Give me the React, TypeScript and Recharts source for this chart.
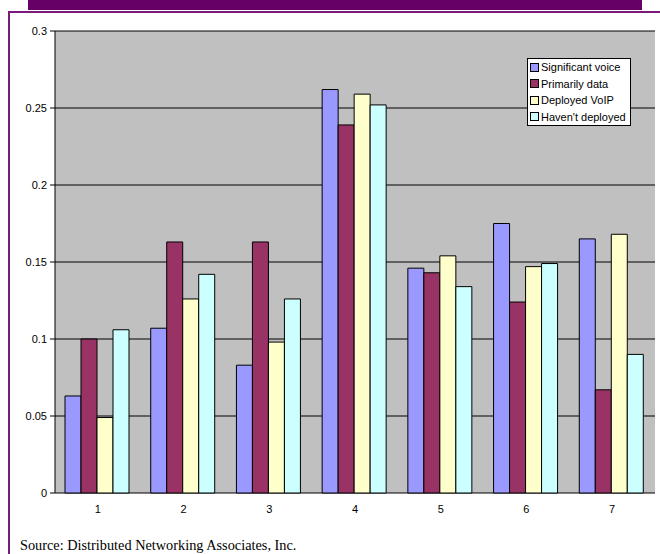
import React from "react";
import { BarChart, Bar, XAxis, YAxis, CartesianGrid } from "recharts";

const categories = ["1", "2", "3", "4", "5", "6", "7"];
const significantVoice = [0.063, 0.107, 0.083, 0.262, 0.146, 0.175, 0.165];
const primarilyData = [0.1, 0.163, 0.163, 0.239, 0.143, 0.124, 0.067];
const deployedVoip = [0.049, 0.126, 0.098, 0.259, 0.154, 0.147, 0.168];
const haventDeployed = [0.106, 0.142, 0.126, 0.252, 0.134, 0.149, 0.09];
const yTicks = [0, 0.05, 0.1, 0.15, 0.2, 0.25, 0.3];
const edgeTicks = [0, 1, 2, 3, 4, 5, 6, 7];

const seriesNames = ["Significant voice", "Primarily data", "Deployed VoIP", "Haven't deployed"];
const seriesKeys = ["sv", "pd", "dv", "hd"];
const seriesColors = ["#9999FF", "#993366", "#FFFFCC", "#CCFFFF"];

const data = categories.map((c, i) => ({
  name: c,
  sv: significantVoice[i],
  pd: primarilyData[i],
  dv: deployedVoip[i],
  hd: haventDeployed[i],
}));

const font = "'Liberation Sans', Arial, sans-serif";

const LegendBox = () => (
  <div
    style={{
      background: "#fff",
      border: "1px solid #000",
      padding: "0px 4px 0px 2px",
      fontFamily: font,
      fontSize: 11,
      color: "#000",
      lineHeight: "16.5px",
    }}
  >
    {seriesNames.map((n, i) => (
      <div key={n} style={{ display: "flex", alignItems: "center", whiteSpace: "nowrap" }}>
        <span
          style={{
            display: "inline-block",
            width: 7,
            height: 7,
            background: seriesColors[i],
            border: "1px solid #000",
            marginRight: 2,
          }}
        />
        {n}
      </div>
    ))}
  </div>
);

export default function App() {
  return (
    <div style={{ position: "absolute", left: 0, top: 0, width: 660, height: 554, overflow: "hidden", background: "#fff" }}>
      <div style={{ position: "absolute", left: 28, top: 0, width: 614, height: 10, background: "#660066" }} />
      <div
        style={{
          position: "absolute",
          left: 8,
          top: 11,
          width: 660,
          height: 560,
          borderLeft: "2px solid #7A1A7A",
          borderTop: "2px solid #7A1A7A",
          boxSizing: "border-box",
        }}
      />
      <div style={{ position: "absolute", left: 0, top: 0 }}>
        <BarChart
          width={660}
          height={520}
          data={data}
          margin={{ top: 31, right: 5, bottom: 7, left: 10 }}
          barCategoryGap={10}
          barGap={0}
        >
          <CartesianGrid xAxisId="cat" vertical={false} horizontal={true} stroke="#000" fill="#C0C0C0" fillOpacity={1} />
          <XAxis
            xAxisId="edge"
            type="number"
            domain={[0, 7]}
            ticks={edgeTicks}
            tick={false}
            height={0}
            tickSize={4}
            stroke="#000"
            axisLine={{ stroke: "#000" }}
            tickLine={{ stroke: "#000" }}
          />
          <XAxis
            xAxisId="cat"
            dataKey="name"
            axisLine={false}
            tickLine={false}
            height={20}
            tickMargin={6}
            tick={{ fontFamily: font, fontSize: 11, fill: "#000" }}
          />
          <YAxis
            domain={[0, 0.3]}
            ticks={yTicks}
            width={45}
            tickSize={5}
            tickMargin={3}
            axisLine={{ stroke: "#000" }}
            tickLine={{ stroke: "#000" }}
            tick={{ fontFamily: font, fontSize: 11, fill: "#000" }}
            interval={0}
          />
          <YAxis
            yAxisId="r"
            orientation="right"
            domain={[0, 0.3]}
            width={0}
            tick={false}
            tickLine={false}
            axisLine={{ stroke: "#808080" }}
          />
          {seriesKeys.map((k, i) => (
            <Bar
              key={k}
              xAxisId="cat"
              dataKey={k}
              name={seriesNames[i]}
              fill={seriesColors[i]}
              stroke="#000"
              strokeWidth={1}
              isAnimationActive={false}
            />
          ))}
        </BarChart>
      </div>
      <div style={{ position: "absolute", left: 527, top: 58 }}>
        <LegendBox />
      </div>
      <div
        style={{
          position: "absolute",
          left: 20,
          top: 537,
          fontFamily: "'Liberation Serif', 'Times New Roman', serif",
          fontSize: 14.3,
          color: "#000",
          whiteSpace: "nowrap",
        }}
      >
        Source: Distributed Networking Associates, Inc.
      </div>
    </div>
  );
}
